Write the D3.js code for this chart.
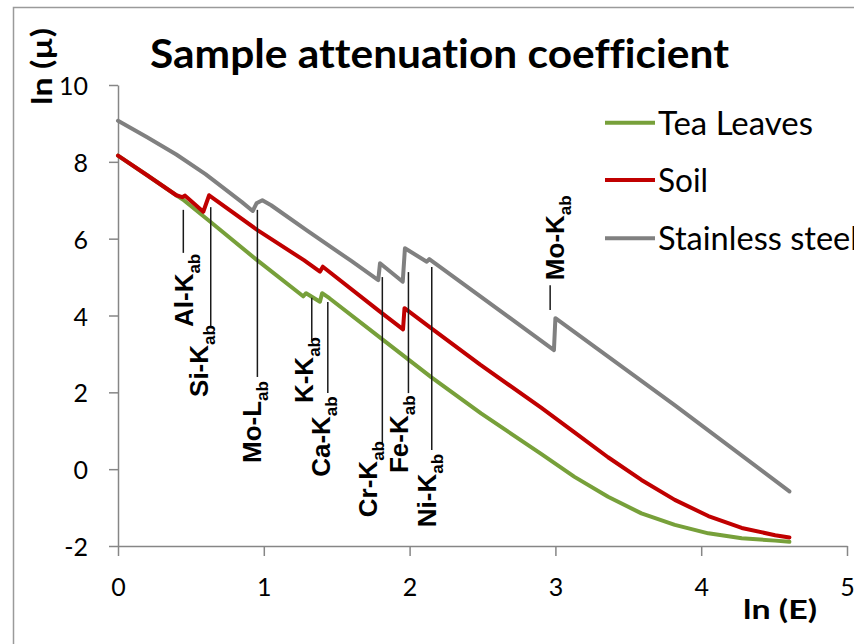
<!DOCTYPE html>
<html><head><meta charset="utf-8">
<script src="https://cdn.jsdelivr.net/npm/d3@7"></script>
<style>body{margin:0;background:#fff;overflow:hidden} svg{display:block} text{font-variant-ligatures:none}</style>
</head><body>
<svg id="c" width="854" height="644"></svg>
<script>
// ---------------- data ----------------
const xTicks = [0, 1, 2, 3, 4, 5];
const yTicks = [-2, 0, 2, 4, 6, 8, 10];
const seriesNames = ["Tea Leaves", "Soil", "Stainless steel"];
const seriesColors = ["#77A03A", "#C00000", "#808080"];

const teaLnE  = [0, 0.20, 0.40, 0.445, 0.633, 0.954, 1.27, 1.29, 1.385, 1.40, 1.45, 1.82, 2.15, 2.49, 2.902, 3.131, 3.361, 3.59, 3.819, 4.049, 4.278, 4.507, 4.605];
const teaLnMu = [8.16, 7.65, 7.13, 7.02, 6.44, 5.44, 4.50, 4.58, 4.36, 4.58, 4.45, 3.36, 2.39, 1.45, 0.40, -0.20, -0.72, -1.15, -1.45, -1.67, -1.80, -1.86, -1.89];

const soilLnE  = [0, 0.20, 0.40, 0.44, 0.46, 0.585, 0.625, 0.954, 1.275, 1.385, 1.405, 1.79, 1.955, 1.965, 2.152, 2.484, 2.902, 3.131, 3.361, 3.59, 3.819, 4.049, 4.278, 4.507, 4.605];
const soilLnMu = [8.16, 7.65, 7.13, 7.08, 7.12, 6.70, 7.13, 6.23, 5.44, 5.14, 5.27, 4.12, 3.64, 4.19, 3.66, 2.72, 1.60, 0.96, 0.31, -0.28, -0.80, -1.22, -1.53, -1.72, -1.78];

const steelLnE  = [0, 0.20, 0.40, 0.60, 0.85, 0.924, 0.95, 0.99, 1.05, 1.30, 1.60, 1.785, 1.797, 1.953, 1.968, 2.118, 2.135, 2.990, 3.000, 3.040, 3.820, 4.605];
const steelLnMu = [9.07, 8.64, 8.19, 7.68, 6.95, 6.72, 6.92, 7.00, 6.87, 6.20, 5.42, 4.92, 5.36, 4.88, 5.75, 5.40, 5.47, 3.10, 3.93, 3.82, 1.66, -0.58];

// absorption-edge annotations (data units: leader x, leader top/bottom, label anchor)
const edgeNames  = ["Al-K", "Si-K", "Mo-L", "K-K", "Ca-K", "Cr-K", "Fe-K", "Ni-K", "Mo-K"];
const edgeLnE    = [0.448, 0.636, 0.956, 1.329, 1.439, 1.813, 1.992, 2.152, 2.964];
const leaderTop  = [6.75, 6.82, 6.75, 4.46, 4.35, 5.00, 5.13, 5.26, 4.79];
const leaderBot  = [5.63, 3.70, 2.40, 3.36, 1.98, 0.68, 1.98, 0.50, 4.14];
const labelLnE   = [0.515, 0.617, 0.981, 1.338, 1.455, 1.777, 1.990, 2.182, 3.060];
const labelLnMu  = [3.70, 1.88, 0.16, 1.72, -0.20, -1.25, -0.10, -1.51, 4.92];
const edgeSub = "ab";

// ---------------- chart ----------------
const svg = d3.select("#c");
const x = d3.scaleLinear().domain([0, 5]).range([118, 847]);
const y = d3.scaleLinear().domain([-2, 10]).range([546, 85]);

// outer chart border
svg.append("rect").attr("x", 13.5).attr("y", 7.5).attr("width", 1000).attr("height", 1000)
  .attr("fill", "none").attr("stroke", "#9a9a9a").attr("stroke-width", 1.5);

// title
svg.append("text").attr("x", 150).attr("y", 68)
  .attr("font-family", "Lato, 'Open Sans', sans-serif").attr("font-weight", 700)
  .attr("font-size", 40).attr("textLength", 579).attr("lengthAdjust", "spacingAndGlyphs")
  .attr("fill", "#000").text("Sample attenuation coefficient");

// axes
const axisColor = "#868686";
const gx = svg.append("g").attr("transform", `translate(0,${y(-2)})`)
  .call(d3.axisBottom(x).tickValues(xTicks).tickSize(10).tickSizeOuter(0).tickPadding(22).tickFormat(d => String(d)));
const gy = svg.append("g").attr("transform", `translate(${x(0)},0)`)
  .call(d3.axisLeft(y).tickValues(yTicks).tickSize(9).tickSizeOuter(0).tickPadding(21).tickFormat(d => String(d)));
[gx, gy].forEach(g => {
  g.select(".domain").attr("stroke", axisColor).attr("stroke-width", 1.5);
  g.selectAll(".tick line").attr("stroke", axisColor).attr("stroke-width", 1.5);
  g.selectAll(".tick text").attr("font-family", "Lato, 'Open Sans', sans-serif")
    .attr("font-size", 25).attr("fill", "#000");
});
gy.selectAll(".tick text").attr("dy", "0.38em");
gx.selectAll(".tick text").attr("dy", "0.71em");

// axis titles
svg.append("text").attr("transform", "translate(52,105) rotate(-90)")
  .attr("font-family", "Lato, 'Open Sans', sans-serif").attr("font-weight", 700)
  .attr("font-size", 28).attr("textLength", 77).attr("lengthAdjust", "spacingAndGlyphs")
  .text("ln (µ)");
svg.append("text").attr("x", 743).attr("y", 619)
  .attr("font-family", "Lato, 'Open Sans', sans-serif").attr("font-weight", 700)
  .attr("font-size", 27).attr("textLength", 74).attr("lengthAdjust", "spacingAndGlyphs")
  .text("ln (E)");

// series
const seriesX = [teaLnE, soilLnE, steelLnE];
const seriesY = [teaLnMu, soilLnMu, steelLnMu];
const line = d3.line().x(d => x(d[0])).y(d => y(d[1]));
seriesNames.forEach((name, i) => {
  const pts = seriesX[i].map((v, j) => [v, seriesY[i][j]]);
  svg.append("path").datum(pts).attr("d", line)
    .attr("fill", "none").attr("stroke", seriesColors[i]).attr("stroke-width", 4)
    .attr("stroke-linejoin", "round").attr("stroke-linecap", "round");
});

// edge annotations
const ann = svg.append("g");
edgeNames.forEach((nm, i) => {
  ann.append("line")
    .attr("x1", x(edgeLnE[i])).attr("x2", x(edgeLnE[i]))
    .attr("y1", y(leaderTop[i])).attr("y2", y(leaderBot[i]))
    .attr("stroke", "#1a1a1a").attr("stroke-width", 1.5);
  const t = ann.append("text")
    .attr("transform", `translate(${x(labelLnE[i])},${y(labelLnMu[i])}) rotate(-90)`)
    .attr("font-family", "'Liberation Sans', Arial, sans-serif").attr("font-weight", 700)
    .attr("font-size", 26).attr("fill", "#000");
  t.append("tspan").text(nm);
  t.append("tspan").attr("font-size", 17).attr("dy", 7).text(edgeSub);
});

// legend
const lg = svg.append("g");
const legendY = [122.7, 180, 238.3];
const legendW = [155, 50, 200];
seriesNames.forEach((name, i) => {
  lg.append("line").attr("x1", 605).attr("x2", 655).attr("y1", legendY[i]).attr("y2", legendY[i])
    .attr("stroke", seriesColors[i]).attr("stroke-width", 4);
  lg.append("text").attr("x", 658).attr("y", legendY[i] + 12)
    .attr("font-family", "Lato, 'Open Sans', sans-serif").attr("font-size", 32)
    .attr("textLength", legendW[i]).attr("lengthAdjust", "spacingAndGlyphs")
    .attr("fill", "#000").text(name);
});
</script>
</body></html>
